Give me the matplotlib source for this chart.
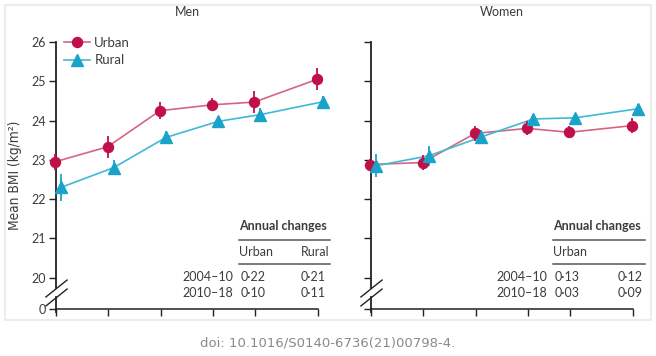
import numpy as np
import matplotlib
matplotlib.use("Agg")
import matplotlib.pyplot as plt
from matplotlib.lines import Line2D
from matplotlib.patches import Rectangle

W, H = 656, 356

# survey waves, placed as on the original axis
x_pos = [0, 3, 6, 9, 11.4, 15]

men_urban = [22.95, 23.33, 24.25, 24.40, 24.47, 25.05]
men_urban_err = [0.2, 0.28, 0.22, 0.17, 0.28, 0.28]
men_rural = [22.30, 22.80, 23.57, 23.98, 24.15, 24.48]
men_rural_err = [0.35, 0.2, 0.17, 0.12, 0.18, 0.15]

women_urban = [22.88, 22.93, 23.67, 23.80, 23.70, 23.87]
women_urban_err = [0.15, 0.2, 0.2, 0.18, 0.15, 0.2]
women_rural = [22.85, 23.10, 23.58, 24.04, 24.07, 24.30]
women_rural_err = [0.3, 0.25, 0.18, 0.1, 0.1, 0.12]

y_ticks = [0, 20, 21, 22, 23, 24, 25, 26]

periods = ["2004–10", "2010–18"]
men_changes_urban = ["0·22", "0·10"]
men_changes_rural = ["0·21", "0·11"]
women_changes_urban = ["0·13", "0·03"]
women_changes_rural = ["0·12", "0·09"]

URBAN = "#c0104a"
URBAN_LINE = "#d6657f"
RURAL = "#1aa3c8"
RURAL_LINE = "#3fbad6"
TXT = "#3c3c3c"
FS = 9

plt.rcParams["font.family"] = ["Lato", "DejaVu Sans"]


def fwd(v):
    v = np.asarray(v, dtype=float)
    return np.where(v >= 20, v - 19.2, v * 0.04)


def inv(u):
    u = np.asarray(u, dtype=float)
    return np.where(u >= 0.8, u + 19.2, u / 0.04)


def fx(x):
    return x / W


def fy(y):
    return 1 - y / H


fig = plt.figure(figsize=(W / 100, H / 100), dpi=100)
fig.patch.set_facecolor("white")

# card
fig.add_artist(Rectangle((fx(5), fy(320)), fx(646), 315 / H, transform=fig.transFigure,
                         facecolor="white", edgecolor="#ececec", lw=1.5, zorder=0))


def panel(left, right, urban, urban_err, rural, rural_err, labels):
    ax = fig.add_axes([fx(left), fy(309), fx(right - left), (309 - 42) / H])
    ax.set_yscale("function", functions=(fwd, inv))
    ax.set_ylim(0, 26)
    ax.set_xlim(0, 15)
    ax.patch.set_alpha(0)
    xu = np.array(x_pos) - 0.05
    xr = np.array(x_pos) + 0.3
    ax.plot(xu, urban, color=URBAN_LINE, lw=1.2, zorder=2, clip_on=False)
    ax.plot(xr, rural, color=RURAL_LINE, lw=1.2, zorder=2, clip_on=False)
    ax.errorbar(xu, urban, yerr=urban_err, fmt="o", ms=7.2, color=URBAN, ecolor=URBAN,
                elinewidth=1.3, capsize=0, zorder=3, clip_on=False)
    ax.errorbar(xr, rural, yerr=rural_err, fmt="^", ms=8.5, color=RURAL, ecolor=RURAL,
                elinewidth=1.3, capsize=0, zorder=3, clip_on=False)
    for s in ["top", "right", "left"]:
        ax.spines[s].set_visible(False)
    ax.spines["bottom"].set_linewidth(1.1)
    ax.spines["bottom"].set_color("#222222")
    ax.set_xticks(x_pos)
    ax.set_xticklabels([])
    ax.set_yticks(y_ticks)
    ax.set_yticklabels([str(t) for t in y_ticks] if labels else [])
    ax.tick_params(axis="both", direction="out", length=5, width=1, color="#222222",
                   labelsize=FS, labelcolor=TXT, pad=2)
    # broken left spine
    tr = ax.get_yaxis_transform()
    ax.plot([0, 0], [-2, 7.5], color="#222222", lw=1.3, transform=tr, clip_on=False)
    ax.plot([0, 0], [13.5, 26], color="#222222", lw=1.3, transform=tr, clip_on=False)
    for yb in [7.5, 13.5]:
        ax.plot([0], [yb], marker=[(-1, -0.8), (1, 0.8)], ms=16, mew=1, mec="#222222",
                mfc="none", transform=tr, clip_on=False)
    return ax


ax1 = panel(56, 318, men_urban, men_urban_err, men_rural, men_rural_err, True)
ax2 = panel(371, 633, women_urban, women_urban_err, women_rural, women_rural_err, False)

fig.text(fx(187), fy(12), "Men", ha="center", va="center", fontsize=FS, color=TXT)
fig.text(fx(502), fy(12), "Women", ha="center", va="center", fontsize=FS, color=TXT)
fig.text(fx(15), fy(175), "Mean BMI (kg/m²)", rotation=90, ha="center", va="center",
         fontsize=9.8, color=TXT, family=["DejaVu Sans"], fontstretch="condensed")

handles = [Line2D([], [], color=URBAN_LINE, lw=1.2, marker="o", ms=7.2, mfc=URBAN, mec=URBAN),
           Line2D([], [], color=RURAL_LINE, lw=1.2, marker="^", ms=8.5, mfc=RURAL, mec=RURAL)]
ax1.legend(handles, ["Urban", "Rural"], loc="upper left", bbox_to_anchor=(-0.015, 1.065),
           frameon=False, fontsize=9.5, handlelength=2.0, handletextpad=0.3,
           labelspacing=0.45, labelcolor=TXT)


def table(x0, x1, xr, header_rural, urban_vals, rural_vals):
    fig.text(fx(x0), fy(226), "Annual changes", ha="left", va="center", fontsize=FS,
             fontweight="bold", color=TXT)
    for yl in [240, 264]:
        fig.add_artist(Line2D([fx(x0), fx(x1)], [fy(yl), fy(yl)], color="#555555", lw=1.1))
    fig.text(fx(x0), fy(252), "Urban", ha="left", va="center", fontsize=FS, color=TXT)
    if header_rural:
        fig.text(fx(x1), fy(252), "Rural", ha="right", va="center", fontsize=FS, color=TXT)
    for i, yl in enumerate([277, 293]):
        fig.text(fx(x0 - 6), fy(yl), periods[i], ha="right", va="center", fontsize=FS, color=TXT)
        fig.text(fx(x0 + 2), fy(yl), urban_vals[i], ha="left", va="center", fontsize=FS, color=TXT)
        fig.text(fx(xr), fy(yl), rural_vals[i], ha="right", va="center", fontsize=FS, color=TXT)


table(239, 330, 326, True, men_changes_urban, men_changes_rural)
table(553, 645, 643, False, women_changes_urban, women_changes_rural)

fig.text(0.5, fy(343), "doi: 10.1016/S0140-6736(21)00798-4.", ha="center", va="center",
         fontsize=9.5, color="#8a8a8a", family="DejaVu Sans")

fig.savefig("out.png", dpi=100)
